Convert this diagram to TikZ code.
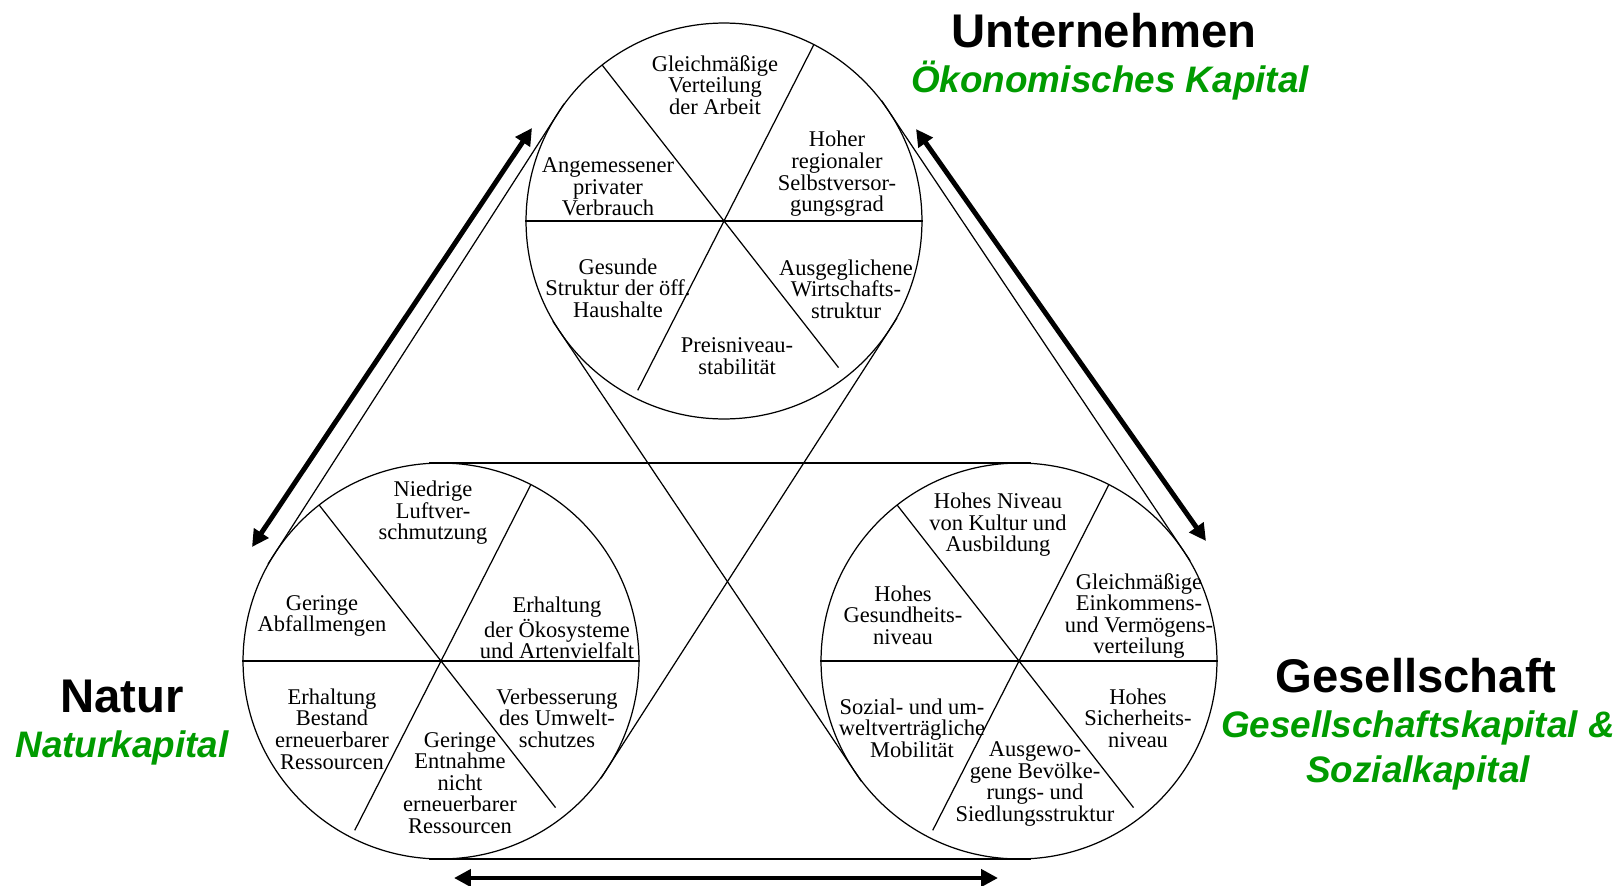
\documentclass[tikz,border=0pt]{standalone}
\usepackage{fontspec}
\setmainfont{Liberation Serif}
\newfontfamily\titelfont{Liberation Sans}
\usetikzlibrary{calc,arrows.meta}
\definecolor{kapitalgruen}{RGB}{0,155,0}

\begin{document}
\begin{tikzpicture}[x = 0.02cm, y = 0.02cm,
        every path/.style={line width=0.7pt},
        kreis/.style={circle, draw, minimum size=7.92cm, inner sep=0pt},
        ziel/.style={align=center, inner sep=0pt, font=\fontsize{12.8}{12.3}\selectfont},
        titel/.style={anchor=base, inner sep=0pt, font=\titelfont\bfseries\fontsize{26.9}{30}\selectfont},
        kapital/.style={anchor=base, inner sep=0pt, align=center, text=kapitalgruen, font=\titelfont\bfseries\itshape\fontsize{21}{25.5}\selectfont},
        guertel/.style={shorten <=-0.24cm, shorten >=-0.24cm},
        pfeil/.style={{Triangle[length=9.6pt,width=9.6pt]}-{Triangle[length=9.6pt,width=9.6pt]}, line width=2.8pt}
]
    \useasboundingbox (0,0) rectangle (1624,-886);

    % die drei Kreise
    \node[kreis] (unternehmen) at (724,-221) {};
    \node[kreis] (natur) at (441,-661) {};
    \node[kreis] (gesellschaft) at (1019,-661) {};

    % Speichen
    \draw (unternehmen.west) -- (unternehmen.east);
    \draw ([shift={(128:198)}]unternehmen.center) -- ([shift={(-52:186)}]unternehmen.center);
    \draw ([shift={(63:198)}]unternehmen.center) -- ([shift={(243:190)}]unternehmen.center);
    \draw (natur.west) -- (natur.east);
    \draw ([shift={(128:198)}]natur.center) -- ([shift={(-52:186)}]natur.center);
    \draw ([shift={(63:198)}]natur.center) -- ([shift={(243:190)}]natur.center);
    \draw (gesellschaft.west) -- (gesellschaft.east);
    \draw ([shift={(128:198)}]gesellschaft.center) -- ([shift={(-52:186)}]gesellschaft.center);
    \draw ([shift={(63:198)}]gesellschaft.center) -- ([shift={(243:190)}]gesellschaft.center);

    % Tangenten
    \draw[guertel] ($(unternehmen.center)!3.96cm!-90:(natur.center)$) -- ($(natur.center)!3.96cm!90:(unternehmen.center)$);
    \draw[guertel] ($(unternehmen.center)!3.96cm!90:(natur.center)$) -- ($(natur.center)!3.96cm!-90:(unternehmen.center)$);
    \draw[guertel] ($(unternehmen.center)!3.96cm!90:(gesellschaft.center)$) -- ($(gesellschaft.center)!3.96cm!-90:(unternehmen.center)$);
    \draw[guertel] ($(unternehmen.center)!3.96cm!-90:(gesellschaft.center)$) -- ($(gesellschaft.center)!3.96cm!90:(unternehmen.center)$);
    \draw[guertel] ($(natur.center)!3.96cm!90:(gesellschaft.center)$) -- ($(gesellschaft.center)!3.96cm!-90:(natur.center)$);
    \draw[guertel] ($(natur.center)!3.96cm!-90:(gesellschaft.center)$) -- ($(gesellschaft.center)!3.96cm!90:(natur.center)$);

    % Ziele Unternehmen
    \node[ziel] (arbeit) at (715,-85) {Gleichmäßige\\Verteilung\\der Arbeit};
    \node[ziel] (verbrauch) at (608,-187) {Angemessener\\privater\\Verbrauch};
    \node[ziel] (versorgung) at (837,-174) {Hoher\\regionaler\\Selbstversor-\\gungsgrad};
    \node[ziel] (haushalte) at (618,-288) {Gesunde\\Struktur der öff.\\Haushalte};
    \node[ziel] (wirtschaft) at (846,-289) {Ausgeglichene\\Wirtschafts-\\struktur};
    \node[ziel] (preise) at (737,-356) {Preisniveau-\\stabilität};

    % Ziele Natur
    \node[ziel] (luft) at (433,-513) {Niedrige\\Luftver-\\schmutzung};
    \node[ziel] (abfall) at (322,-616) {Geringe\\Abfallmengen};
    \node[ziel] (oekosysteme) at (557,-628) {Erhaltung\\der Ökosysteme\\und Artenvielfalt};
    \node[ziel] (bestand) at (332,-729) {Erhaltung\\Bestand\\erneuerbarer\\Ressourcen};
    \node[ziel] (entnahme) at (460,-783) {Geringe\\Entnahme\\nicht\\erneuerbarer\\Ressourcen};
    \node[ziel] (umweltschutz) at (557,-718) {Verbesserung\\des Umwelt-\\schutzes};

    % Ziele Gesellschaft
    \node[ziel] (bildung) at (998,-525) {Hohes Niveau\\von Kultur und\\Ausbildung};
    \node[ziel] (gesundheit) at (903,-615) {Hohes\\Gesundheits-\\niveau};
    \node[ziel] (verteilung) at (1139,-616) {Gleichmäßige\\Einkommens-\\und Vermögens-\\verteilung};
    \node[ziel] (mobilitaet) at (912,-728) {Sozial- und um-\\weltverträgliche\\Mobilität};
    \node[ziel] (siedlung) at (1035,-784) {Ausgewo-\\gene Bevölke-\\rungs- und\\Siedlungsstruktur};
    \node[ziel] (sicherheit) at (1138,-718) {Hohes\\Sicherheits-\\niveau};

    % Titel
    \node[titel] (titelU) at (1104,-47) {Unternehmen};
    \node[kapital] (kapitalU) at (1110,-92) {Ökonomisches Kapital};
    \node[titel] (titelN) at (122,-712) {Natur};
    \node[kapital] (kapitalN) at (122,-757) {Naturkapital};
    \node[titel] (titelG) at (1416,-692) {Gesellschaft};
    \node[kapital] (kapitalG) at (1418,-782) {Gesellschaftskapital \&\\Sozialkapital};

    % Wechselwirkungen
    \coordinate (pfeilUN) at (532,-128);
    \coordinate (pfeilNU) at (252,-547);
    \coordinate (pfeilUG) at (916,-129);
    \coordinate (pfeilGU) at (1206,-541);
    \coordinate (pfeilNG) at (454,-878);
    \coordinate (pfeilGN) at (998,-878);
    \draw[pfeil] (pfeilUN) -- (pfeilNU);
    \draw[pfeil] (pfeilUG) -- (pfeilGU);
    \draw[pfeil] (pfeilNG) -- (pfeilGN);

\end{tikzpicture}
\end{document}
